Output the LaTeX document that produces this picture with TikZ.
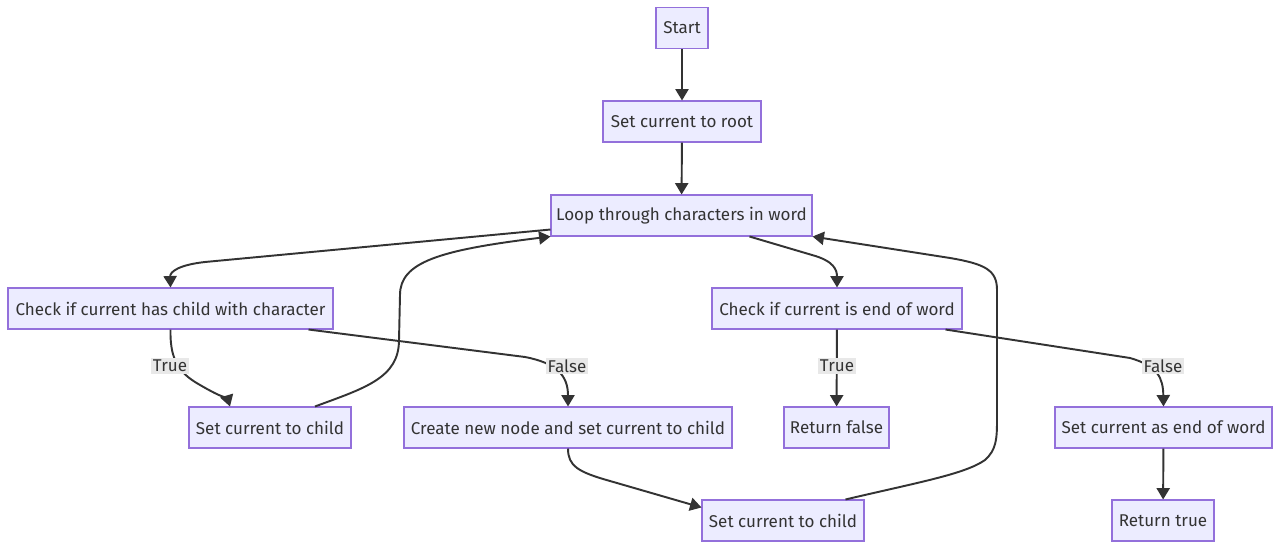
\documentclass[tikz,border=0pt]{standalone}
\usepackage{fontspec}
\setmainfont{Fira Sans}
\usetikzlibrary{arrows.meta,positioning,calc}
\definecolor{boxfill}{HTML}{ECECFF}
\definecolor{boxline}{HTML}{9370DB}
\definecolor{edgeline}{HTML}{333333}
\definecolor{lblfill}{HTML}{E8E8E8}
\tikzset{
  box/.style={draw=boxline, fill=boxfill, line width=0.6pt, minimum height=0.82cm,
    minimum width={#1*0.02cm}, inner xsep=0pt, text=edgeline, font=\fontsize{9.7}{11}\selectfont},
  lbl/.style={fill=lblfill, inner sep=1pt, text=edgeline, font=\fontsize{9.7}{11}\selectfont},
  arr/.style={draw=edgeline, line width=1.1pt, -{Triangle[length=6.5pt,width=7.5pt]}},
}
\begin{document}
\begin{tikzpicture}[x=0.02cm,y=-0.02cm]
\useasboundingbox[fill=white] (0,0) rectangle (1280,550);
% boxes
\node[box=52] (start) at (682,28) {Start};
\node[box=158] (root) at (682,121.5) {Set current to root};
\node[box=261] (loop) at (681.5,215.5) {Loop through characters in word};
\node[box=325] (haschild) at (170.5,308.5) {Check if current has child with character};
\node[box=250] (isend) at (837,308.5) {Check if current is end of word};
\node[box=162] (childa) at (270,427.5) {Set current to child};
\node[box=328] (newnode) at (568,427.5) {Create new node and set current to child};
\node[box=105] (retfalse) at (836.5,427.5) {Return false};
\node[box=217] (setend) at (1163.5,427.5) {Set current as end of word};
\node[box=162] (childb) at (783,520.5) {Set current to child};
\node[box=102] (rettrue) at (1163,520.5) {Return true};
% edges
\draw[arr] (start) -- (root);
\draw[arr] (root) -- (loop);
\draw[arr] ($(loop.south west)+(0,-7)$) -- (205,262) .. controls (178,265) and (170,272) .. (haschild.north);
\draw[arr] (haschild.south) .. controls (170,355) and (176,370) .. (195,382) .. controls (215,394) and (228,400) .. ($(childa.north)+(-40,0)$);
\draw[arr] ($(haschild.south east)+(-25,0)$) -- (525,357) .. controls (556,363) and (568,375) .. (newnode.north);
\draw[arr] ($(childa.north)+(45,0)$) .. controls (365,388) and (399,378) .. (399,340) -- (400,295) .. controls (400,262) and (440,250) .. (loop.south west);
\draw[arr] ($(loop.south)+(68,0)$) -- (812,255) .. controls (834,261) and (837,270) .. (isend.north);
\draw[arr] (isend) -- (retfalse);
\draw[arr] ($(isend.south east)+(-17,0)$) -- (1130,358) .. controls (1158,366) and (1163,378) .. (setend.north);
\draw[arr] (newnode.south) .. controls (568,466) and (578,472) .. (610,481) -- ($(childb.north west)+(0,8)$);
\draw[arr] ($(childb.north east)+(-19,0)$) .. controls (920,482) and (965,474) .. (985,460) .. controls (996,450) and (997,440) .. (997,420) -- (997,290) .. controls (997,270) and (985,264) .. (950,258) -- (loop.south east);
\draw[arr] (setend) -- (rettrue);
% edge labels
\node[lbl] (truea) at (170,366) {True};
\node[lbl] (falsea) at (567,366) {False};
\node[lbl] (trueb) at (837,366) {True};
\node[lbl] (falseb) at (1163,366) {False};
\end{tikzpicture}
\end{document}
